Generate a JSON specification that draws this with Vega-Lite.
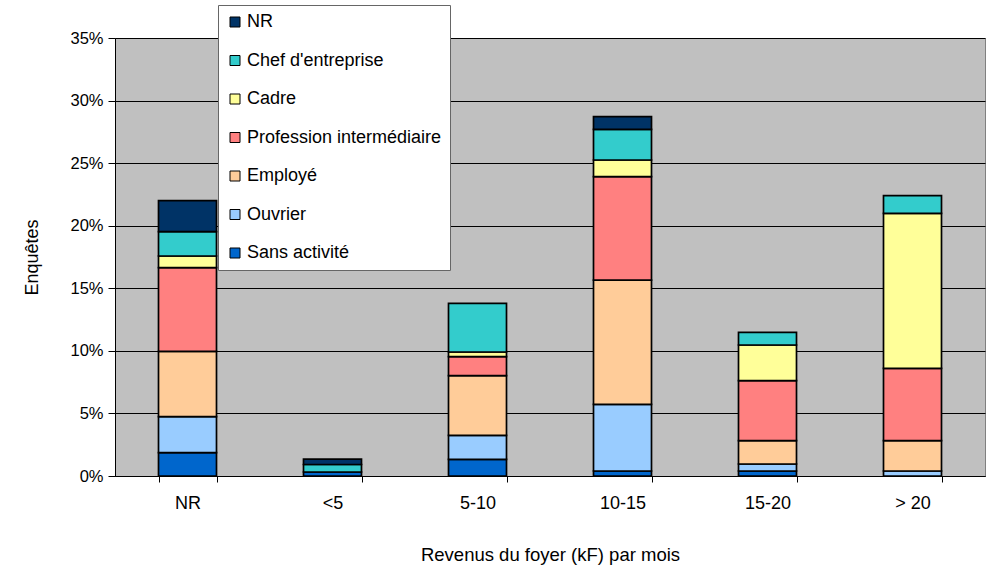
{
  "$schema": "https://vega.github.io/schema/vega-lite/v6.json",
  "autosize": "none",
  "width": 870,
  "height": 438,
  "padding": {"left": 115, "top": 38, "right": 18, "bottom": 106},
  "background": "white",
  "config": {
    "font": "Liberation Sans",
    "view": {"fill": "#C0C0C0", "stroke": "#808080", "strokeWidth": 1},
    "axis": {"labelFont": "Liberation Sans", "titleFont": "Liberation Sans", "labelColor": "#000", "titleColor": "#000", "titleFontWeight": "normal"},
    "legend": {"labelFont": "Liberation Sans"}
  },
  "datasets": {
    "categories": [
      {"cat": "Sans activité", "rang": 1},
      {"cat": "Ouvrier", "rang": 2},
      {"cat": "Employé", "rang": 3},
      {"cat": "Profession intermédiaire", "rang": 4},
      {"cat": "Cadre", "rang": 5},
      {"cat": "Chef d'entreprise", "rang": 6},
      {"cat": "NR", "rang": 7}
    ]
  },
  "data": {
    "values": [
      {"revenu": "NR", "cat": "Sans activité", "pct": 1.86},
      {"revenu": "NR", "cat": "Ouvrier", "pct": 2.88},
      {"revenu": "NR", "cat": "Employé", "pct": 5.22},
      {"revenu": "NR", "cat": "Profession intermédiaire", "pct": 6.69},
      {"revenu": "NR", "cat": "Cadre", "pct": 0.93},
      {"revenu": "NR", "cat": "Chef d'entreprise", "pct": 1.94},
      {"revenu": "NR", "cat": "NR", "pct": 2.48},
      {"revenu": "<5", "cat": "Sans activité", "pct": 0.32},
      {"revenu": "<5", "cat": "Chef d'entreprise", "pct": 0.6},
      {"revenu": "<5", "cat": "NR", "pct": 0.43},
      {"revenu": "5-10", "cat": "Sans activité", "pct": 1.33},
      {"revenu": "5-10", "cat": "Ouvrier", "pct": 1.92},
      {"revenu": "5-10", "cat": "Employé", "pct": 4.77},
      {"revenu": "5-10", "cat": "Profession intermédiaire", "pct": 1.52},
      {"revenu": "5-10", "cat": "Cadre", "pct": 0.37},
      {"revenu": "5-10", "cat": "Chef d'entreprise", "pct": 3.89},
      {"revenu": "10-15", "cat": "Sans activité", "pct": 0.4},
      {"revenu": "10-15", "cat": "Ouvrier", "pct": 5.33},
      {"revenu": "10-15", "cat": "Employé", "pct": 9.93},
      {"revenu": "10-15", "cat": "Profession intermédiaire", "pct": 8.26},
      {"revenu": "10-15", "cat": "Cadre", "pct": 1.33},
      {"revenu": "10-15", "cat": "Chef d'entreprise", "pct": 2.45},
      {"revenu": "10-15", "cat": "NR", "pct": 1.01},
      {"revenu": "15-20", "cat": "Sans activité", "pct": 0.4},
      {"revenu": "15-20", "cat": "Ouvrier", "pct": 0.56},
      {"revenu": "15-20", "cat": "Employé", "pct": 1.86},
      {"revenu": "15-20", "cat": "Profession intermédiaire", "pct": 4.8},
      {"revenu": "15-20", "cat": "Cadre", "pct": 2.85},
      {"revenu": "15-20", "cat": "Chef d'entreprise", "pct": 1.01},
      {"revenu": "> 20", "cat": "Ouvrier", "pct": 0.4},
      {"revenu": "> 20", "cat": "Employé", "pct": 2.42},
      {"revenu": "> 20", "cat": "Profession intermédiaire", "pct": 5.78},
      {"revenu": "> 20", "cat": "Cadre", "pct": 12.39},
      {"revenu": "> 20", "cat": "Chef d'entreprise", "pct": 1.41}
    ]
  },
  "transform": [
    {"lookup": "cat", "from": {"data": {"name": "categories"}, "key": "cat", "fields": ["rang"]}}
  ],
  "mark": {"type": "bar", "stroke": "#000", "strokeWidth": 1.7},
  "encoding": {
    "x": {
      "field": "revenu",
      "type": "nominal",
      "sort": ["NR", "<5", "5-10", "10-15", "15-20", "> 20"],
      "scale": {"paddingInner": 0.6, "paddingOuter": 0.3},
      "axis": {
        "title": "Revenus du foyer (kF) par mois",
        "titleFontSize": 18.5,
        "titlePadding": 33,
        "labelFontSize": 18,
        "labelAngle": 0,
        "labelPadding": 12,
        "tickBand": "extent",
        "tickSize": 6,
        "tickColor": "#000",
        "domainColor": "#000",
        "grid": false
      }
    },
    "y": {
      "field": "pct",
      "type": "quantitative",
      "stack": "zero",
      "scale": {"domain": [0, 35], "nice": false},
      "axis": {
        "title": "Enquêtes",
        "titleFontSize": 18,
        "titlePadding": 28,
        "labelFontSize": 16.5,
        "labelPadding": 5,
        "values": [0, 5, 10, 15, 20, 25, 30, 35],
        "labelExpr": "datum.value + '%'",
        "tickSize": 7,
        "tickColor": "#000",
        "domainColor": "#000",
        "grid": true,
        "gridColor": "#000",
        "gridOpacity": 1,
        "gridWidth": 1
      }
    },
    "color": {
      "field": "cat",
      "type": "nominal",
      "scale": {
        "domain": ["NR", "Chef d'entreprise", "Cadre", "Profession intermédiaire", "Employé", "Ouvrier", "Sans activité"],
        "range": ["#003366", "#33CCCC", "#FFFF99", "#FF8080", "#FFCC99", "#99CCFF", "#0066CC"]
      },
      "legend": {
        "title": null,
        "orient": "none",
        "legendX": 103,
        "legendY": -33,
        "fillColor": "white",
        "strokeColor": "#666",
        "padding": 8,
        "rowPadding": 20.5,
        "symbolType": "square",
        "symbolSize": 100,
        "symbolStrokeColor": "#000",
        "symbolStrokeWidth": 1,
        "symbolOpacity": 1,
        "labelFontSize": 18,
        "labelColor": "#000",
        "labelOffset": 3,
        "labelLimit": 300
      }
    },
    "order": {"field": "rang", "type": "quantitative", "sort": "ascending"}
  }
}
